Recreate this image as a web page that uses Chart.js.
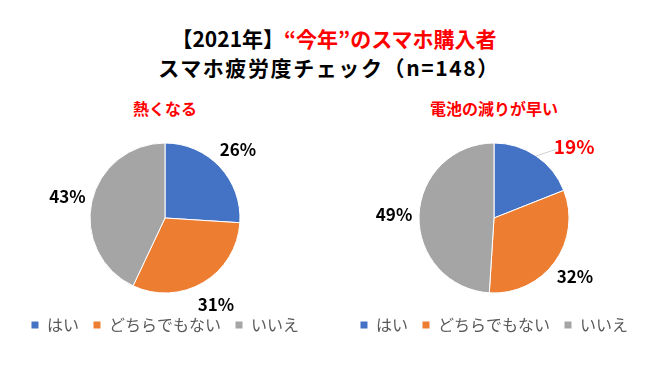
<!DOCTYPE html>
<html>
<head>
<meta charset="utf-8">
<script src="https://cdn.jsdelivr.net/npm/chart.js@4/dist/chart.umd.min.js"></script>
<style>
  html, body { margin: 0; padding: 0; background: #fff; }
  body { width: 660px; height: 371px; position: relative; overflow: hidden;
         font-family: "Noto Sans CJK JP", "Noto Sans", sans-serif; }
  #title { position: absolute; left: 0; top: 24px; width: 660px; text-align: center;
           font-size: 21px; font-weight: bold; line-height: 29px; color: #000; }
  #title .l1 { padding-left: 8px; }
  #title .l2 { letter-spacing: 1.6px; padding-right: 2px; }
  #title .red { color: #FF0000; }
  .sub { position: absolute; top: 97px; width: 200px; text-align: center;
         font-size: 16px; font-weight: bold; color: #FF0000; line-height: 22px; }
  .box { position: absolute; top: 120px; width: 330px; height: 225px; }
</style>
</head>
<body>
<div id="title">
  <div class="l1">【2021年】<span class="red">“今年”のスマホ購入者</span></div>
  <div class="l2">スマホ疲労度チェック（n=148）</div>
</div>
<div class="sub" id="sub1" style="left:65px;"></div>
<div class="sub" id="sub2" style="left:394px;"></div>
<div class="box" style="left:0px;"><canvas id="c1" width="330" height="225"></canvas></div>
<div class="box" style="left:329px;"><canvas id="c2" width="330" height="225"></canvas></div>
<script>
// ---- data ----
const categories = ["はい", "どちらでもない", "いいえ"];
const chartTitles = ["熱くなる", "電池の減りが早い"];
const hotValues = [26, 31, 43];
const batteryValues = [19, 32, 49];
const sliceColors = ["#4472C4", "#ED7D31", "#A5A5A5"];

document.getElementById("sub1").textContent = chartTitles[0];
document.getElementById("sub2").textContent = chartTitles[1];

const FONT = '"Noto Sans CJK JP", "Noto Sans", sans-serif';

// outside-end percentage labels placed along each arc's mid angle
const outsideLabels = {
  id: "outsideLabels",
  afterDatasetsDraw(chart, args, opts) {
    const ctx = chart.ctx;
    const meta = chart.getDatasetMeta(0);
    const values = chart.data.datasets[0].data;
    meta.data.forEach((arc, i) => {
      const p = arc.getProps(["x", "y", "startAngle", "endAngle", "outerRadius"], true);
      const mid = (p.startAngle + p.endAngle) / 2;
      const d = p.outerRadius + (opts.distance || 25);
      const nudge = (opts.nudge && opts.nudge[i]) || [0, 0];
      const lx = p.x + Math.cos(mid) * d + nudge[0];
      const ly = p.y + Math.sin(mid) * d + nudge[1];
      const style = (opts.styles && opts.styles[i]) || {};
      const size = style.size || 17;
      const color = style.color || "#000";
      ctx.save();
      if (opts.leader && opts.leader[i]) {
        const ex = p.x + Math.cos(mid) * p.outerRadius;
        const ey = p.y + Math.sin(mid) * p.outerRadius;
        ctx.strokeStyle = "#D0D0D0";
        ctx.lineWidth = 1;
        ctx.beginPath();
        ctx.moveTo(ex, ey);
        ctx.lineTo(lx - 18, ly + 3);
        ctx.stroke();
      }
      ctx.font = "bold " + size + "px " + FONT;
      ctx.fillStyle = color;
      ctx.textAlign = "center";
      ctx.textBaseline = "middle";
      ctx.fillText(values[i] + "%", lx, ly);
      ctx.restore();
    });
  }
};

function makePie(id, values, labelOpts) {
  return new Chart(document.getElementById(id), {
    type: "pie",
    data: {
      labels: categories,
      datasets: [{
        data: values,
        backgroundColor: sliceColors,
        borderColor: "#ffffff",
        borderWidth: 1
      }]
    },
    options: {
      responsive: false,
      animation: false,
      radius: 75,
      layout: { padding: { top: 13, bottom: 2, left: 0, right: 0 } },
      plugins: {
        tooltip: { enabled: false },
        title: { display: false },
        legend: {
          position: "bottom",
          labels: {
            boxWidth: 8,
            boxHeight: 8,
            padding: 14,
            color: "#595959",
            font: { family: FONT, size: 16 }
          }
        },
        outsideLabels: labelOpts
      }
    },
    plugins: [outsideLabels]
  });
}

makePie("c1", hotValues, { distance: 25 });
makePie("c2", batteryValues, {
  distance: 25,
  nudge: [[24, 11], [0, 0], [0, 0]],
  leader: [true, false, false],
  styles: [{ color: "#FF0000", size: 19 }, {}, {}]
});
</script>
</body>
</html>
